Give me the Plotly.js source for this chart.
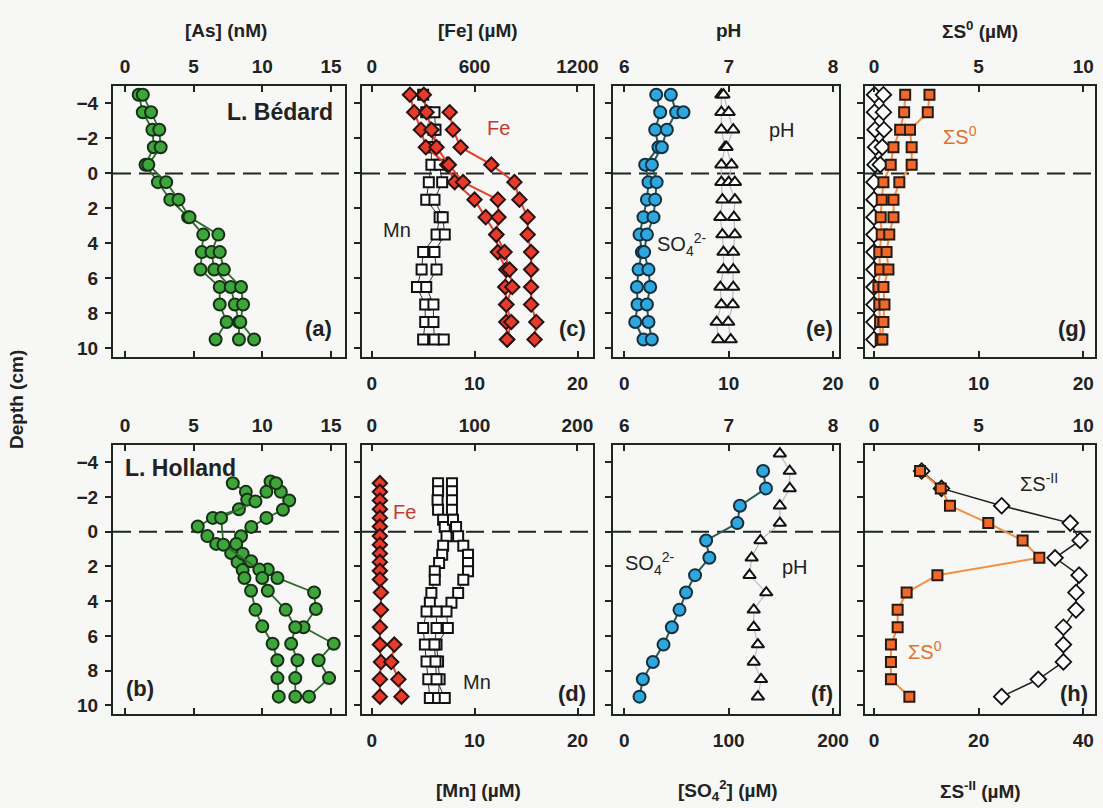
<!DOCTYPE html>
<html><head><meta charset="utf-8">
<script src="https://cdn.plot.ly/plotly-3.0.1.min.js"></script>
<style>html,body{margin:0;padding:0;background:#f7f7f5;}#chart{width:1103px;height:808px;}</style>
</head><body><div id="chart"></div>
<script>
// ---------- DATA ----------
// L. Bédard (top row)
const depthBed = [-4.5,-3.5,-2.5,-1.5,-0.5,0.5,1.5,2.5,3.5,4.5,5.5,6.5,7.5,8.5,9.5];
const depthBedB = [-3.5,-2.5,-1.5,-0.5,0.5,1.5,2.5,3.5,4.5,5.5,6.5,7.5,8.5,9.5];
const depthBedAs3 = [4.5,5.5,6.5,7.5,8.5,9.5];
const asBed1 = [1.0,1.3,2.0,2.1,1.5,2.4,3.3,4.6,5.7,5.6,5.5,6.9,6.9,7.4,6.6];
const asBed2 = [1.3,1.9,2.5,2.6,1.7,3.0,3.9,4.7,6.8,6.3,6.5,7.7,8.0,8.3,8.3];
const asBed3 = [6.9,7.2,8.45,8.6,8.4,9.4];
const feBed1 = [223,248,287,316,440,484,600,665,727,736,785,779,785,785,790];
const feBed2 = [304,320,349,378,450,533,736,740,727,775,804,820,785,814,790];
const feBed3 = [455,474,519,698,833,862,910,910,930,930,930,930,960,950];
const mnBed1 = [5.0,5.3,6.0,5.8,5.8,5.55,5.3,6.6,6.3,5.0,4.85,4.4,5.2,5.2,5.0];
const mnBed2 = [6.1,6.2,6.1,6.6,6.85,6.1,6.9,7.1,6.1,6.3,5.3,6.0,6.0,6.1];
const depthBedMn3 = [9.5];
const mnBed3 = [7.0];
const so4Bed1 = [3.06,3.44,2.96,3.28,2.0,2.32,2.17,1.84,1.46,1.69,1.37,1.21,1.27,1.05,1.84];
const so4Bed2 = [4.46,4.97,4.08,3.6,2.65,3.1,2.96,2.8,2.17,1.9,2.32,2.48,2.17,2.32,2.64];
const depthBedSo4x = [-3.5];
const so4Bed3 = [5.67];
const phBed1 = [6.93,6.93,6.93,6.965,6.93,6.93,6.94,6.92,6.94,6.95,6.95,6.92,6.93,6.885,6.90];
const phBed2 = [6.95,7.0,7.044,6.98,7.028,7.0,7.06,7.05,7.06,7.044,7.044,7.044,7.04,6.996,7.02];
const depthBedPh3 = [0.5];
const phBed3 = [7.06];
const s0Bed1 = [1.49,1.44,1.25,0.93,0.8,0.45,0.37,0.32,0.37,0.25,0.29,0.21,0.25,0.29,0.32];
const s0Bed2 = [2.65,2.57,1.72,1.8,1.8,1.21,0.93,0.93,0.73,0.6,0.69,0.45,0.5,0.45,0.4];
const sIIBed1 = [0.05,0.05,0.1,0.15,0.1,0.0,0.0,0.0,0.0,0.0,0.0,0.0,0.0,0.0,0.0];
const depthBedSII2 = [-4.5,-3.5,-2.5,-1.5,-0.5];
const sIIBed2 = [0.9,0.9,0.95,0.8,0.6];

// L. Holland (bottom row)
const depthHolAs1 = [-2.8,-2.3,-1.85,-1.3,-0.8,-0.3,0.25,0.7,1.22,1.75,2.2,2.66,3.4,4.5,5.45,6.45,7.4,8.43,9.5];
const asHol1 = [7.85,8.8,8.9,8.3,6.4,5.3,6.0,6.64,7.73,8.2,8.57,8.7,9.18,9.5,10.0,10.75,11.1,11.1,11.2];
const depthHolAs2 = [-2.9,-2.3,-1.8,-1.27,-0.8,-0.28,0.26,0.7,1.26,1.7,2.18,2.66,3.5,4.45,5.5,6.45,7.4,8.43,9.5];
const asHol2 = [10.6,11.35,11.96,11.5,10.3,9.2,8.45,8.1,8.57,9.18,10.4,11.1,13.77,13.9,13.0,15.2,14.1,14.86,13.4];
const depthHolAs3 = [-2.8,-2.3,-1.75,-0.8,0.75,2.18,2.66,3.4,4.5,5.5,6.45,7.4,8.43,9.5];
const asHol3 = [11.0,10.3,9.5,7.0,7.17,9.78,10.0,10.4,11.7,12.4,12.1,12.56,12.4,12.4];
const depthHolFe1 = [-2.8,-2.3,-1.8,-1.3,-0.8,-0.3,0.25,0.75,1.25,1.75,2.25,2.75,3.5,4.5,5.5,6.5,7.5,8.5,9.5];
const feHol1 = [8,8,8,8,8,8,8,8,8,8,8,8,9,9,8,8,9,8,8];
const depthHolFe2 = [6.5,7.5,8.5,9.5];
const feHol2 = [22,19,26,29];
const depthHolMn = [-2.8,-2.33,-1.81,-1.27,-0.7,-0.28,0.26,0.8,1.32,1.8,2.28,2.76,3.53,4.09,4.59,5.55,6.5,7.47,8.5,9.58];
const mnHol1 = [6.45,6.45,6.4,6.45,6.94,7.1,7.27,6.94,6.85,6.55,6.13,6.13,5.8,5.65,5.33,5.0,5.17,5.33,5.5,5.65];
const mnHol2 = [7.8,7.8,7.8,7.8,7.9,8.2,8.4,8.9,9.36,9.36,9.36,8.9,8.4,7.75,7.27,7.4,6.3,6.45,6.6,6.45];
const depthHolMn3 = [4.59,5.55,6.5,7.47,8.5,9.58];
const mnHol3 = [6.3,6.3,6.1,6.2,6.3,7.1];
const depthHolSo4 = [-3.5,-2.5,-1.5,-0.5,0.5,1.5,2.5,3.5,4.5,5.5,6.5,7.5,8.5,9.5];
const so4Hol = [133,135.7,110.8,108.3,78.4,81.5,67.8,59.2,52.9,45.6,37.6,27.4,17.8,14.6];
const depthHolPh = [-4.5,-3.5,-2.5,-1.5,-0.5,0.5,1.5,2.5,3.5,4.5,5.5,6.5,7.5,8.5,9.5];
const phHol = [7.49,7.585,7.585,7.49,7.49,7.305,7.22,7.2,7.36,7.24,7.24,7.28,7.24,7.31,7.28];
const depthHolS = [-3.5,-2.5,-1.5,-0.5,0.5,1.5,2.5,3.5,4.5,5.5,6.5,7.5,8.5,9.5];
const s0Hol = [2.2,3.19,3.63,5.46,7.1,7.9,3.03,1.56,1.13,1.13,0.81,0.81,0.81,1.69];
const sIIHol = [9.1,12.9,24.4,37.5,39.4,34.6,39.2,38.6,38.6,36.2,36.2,36.2,31.4,24.4];

const depthTicks = [-4,-2,0,2,4,6,8,10];

// ---------- LAYOUT HELPERS ----------
const W = 1103, H = 808;
const px = x => x / W, py = y => 1 - y / H;
const INK = '#1d2620';
const FONT = 'Liberation Sans, Arial, sans-serif';
const tickFont = {family: FONT, size: 19, color: '#222', weight: 'bold'};
const cols = [[113,345],[362,593],[613,839],[865,1095]];
const rows = [[86,357],[445,714]];

// single: only one x scale (drawn on top, mirrored ticks at bottom)
const panels = [
  {c:0,r:0, single:true, top:[-0.87,16.02], tt:[0,5,10,15]},
  {c:1,r:0, top:[-56.5,1291], tt:[0,600,1200], bot:[-0.94,21.5], bt:[0,10,20]},
  {c:2,r:0, top:[5.892,8.057], tt:[6,7,8], bot:[-1.08,20.57], bt:[0,10,20]},
  {c:3,r:0, top:[-0.43,10.56], tt:[0,5,10], bot:[-0.86,21.12], bt:[0,10,20]},
  {c:0,r:1, single:true, top:[-0.87,16.02], tt:[0,5,10,15]},
  {c:1,r:1, top:[-9.4,215.2], tt:[0,100,200], bot:[-0.94,21.5], bt:[0,10,20]},
  {c:2,r:1, top:[5.892,8.057], tt:[6,7,8], bot:[-10.8,205.7], bt:[0,100,200]},
  {c:3,r:1, top:[-0.43,10.56], tt:[0,5,10], bot:[-1.72,42.24], bt:[0,20,40]}
];

const layout = {
  width: W, height: H, margin: {l:0,r:0,t:0,b:0},
  paper_bgcolor: '#f7f7f5', plot_bgcolor: 'rgba(0,0,0,0)',
  showlegend: false, font: {family: FONT, color: '#222'},
  annotations: [], shapes: []
};
const axId = n => n === 1 ? '' : String(n);
const common = {ticks: 'inside', ticklen: 6, tickwidth: 2, tickcolor: INK, tickfont: tickFont,
  showline: true, linewidth: 2, linecolor: INK, showgrid: false, zeroline: false, fixedrange: true};
panels.forEach((p, i) => {
  const yn = i + 1, xb = 2*i + 1, xt = 2*i + 2;
  const col = cols[p.c], row = rows[p.r];
  layout['yaxis' + axId(yn)] = {
    domain: [py(row[1]), py(row[0])], anchor: 'x' + axId(xb),
    range: [10.5, -5], tickvals: depthTicks, ticks: 'outside', ticklen: 6, tickwidth: 2, tickcolor: INK,
    showticklabels: p.c === 0, tickfont: tickFont, ticklabelstandoff: 3,
    showline: true, mirror: true, linewidth: 2, linecolor: INK,
    showgrid: false, zeroline: false, fixedrange: true
  };
  if (p.single) {
    layout['xaxis' + axId(xb)] = Object.assign({}, common, {
      domain: [px(col[0]), px(col[1])], anchor: 'y' + axId(yn), side: 'top', mirror: 'ticks',
      range: p.top, tickvals: p.tt, showticklabels: true, ticklabelstandoff: 3});
  } else {
    layout['xaxis' + axId(xb)] = Object.assign({}, common, {
      domain: [px(col[0]), px(col[1])], anchor: 'y' + axId(yn), side: 'bottom',
      range: p.bot, tickvals: p.bt, showticklabels: true, ticklabelstandoff: 8});
    layout['xaxis' + axId(xt)] = Object.assign({}, common, {
      overlaying: 'x' + axId(xb), anchor: 'y' + axId(yn), side: 'top',
      range: p.top, tickvals: p.tt, showticklabels: true, ticklabelstandoff: 3});
  }
  layout.shapes.push({type:'line', layer:'below', xref:'x' + axId(xb) + ' domain', x0:0, x1:1,
    yref:'y' + axId(yn), y0:0, y1:0, line:{color: INK, width: 2, dash: '18px,8px'}});
});

// ---------- TRACES ----------
const S = {
  as:   {marker:{symbol:'circle', size:12, color:'#3ea53a', line:{color:'#163016', width:2}}, line:{color:'#2d6a2a', width:1.8}},
  fe:   {marker:{symbol:'diamond', size:11, color:'#e63b2a', line:{color:'#2a1010', width:2}}, line:{color:'#e8402e', width:2}},
  mn:   {marker:{symbol:'square', size:10, color:'#ffffff', line:{color:'#111', width:2}}, line:{color:'#333', width:1}},
  so4:  {marker:{symbol:'circle', size:12, color:'#2ea7df', line:{color:'#14303e', width:2}}, line:{color:'#2a5a58', width:2}},
  ph:   {marker:{symbol:'triangle-up', size:11, color:'#ffffff', line:{color:'#111', width:2}}, line:{color:'#bbbbbb', width:1.2}},
  s0:   {marker:{symbol:'square', size:10, color:'#f0682a', line:{color:'#2a1a10', width:2}}, line:{color:'#f39048', width:2}},
  sII:  {marker:{symbol:'diamond', size:12, color:'#ffffff', line:{color:'#111', width:1.8}}, line:{color:'#222', width:1.5}}
};
const traces = [];
function add(xv, yv, panel, which, st) {
  const xb = 2*panel + 1, xt = 2*panel + 2;
  const useTop = which === 'top' && !panels[panel].single;
  traces.push({type:'scatter', mode:'lines+markers', x: xv, y: yv,
    xaxis: 'x' + axId(useTop ? xt : xb), yaxis: 'y' + axId(panel + 1),
    marker: S[st].marker, line: S[st].line, hoverinfo: 'skip', cliponaxis: false});
}
// (a)
add(asBed1, depthBed, 0, 'top', 'as');
add(asBed2, depthBed, 0, 'top', 'as');
add(asBed3, depthBedAs3, 0, 'top', 'as');
// (c)
add(mnBed1, depthBed, 1, 'bot', 'mn');
add(mnBed2, depthBedB, 1, 'bot', 'mn');
add(mnBed3, depthBedMn3, 1, 'bot', 'mn');
add(feBed1, depthBed, 1, 'top', 'fe');
add(feBed2, depthBed, 1, 'top', 'fe');
add(feBed3, depthBedB, 1, 'top', 'fe');
// (e)
add(so4Bed1, depthBed, 2, 'bot', 'so4');
add(so4Bed2, depthBed, 2, 'bot', 'so4');
add(so4Bed3, depthBedSo4x, 2, 'bot', 'so4');
add(phBed1, depthBed, 2, 'top', 'ph');
add(phBed2, depthBed, 2, 'top', 'ph');
add(phBed3, depthBedPh3, 2, 'top', 'ph');
// (g)
add(sIIBed1, depthBed, 3, 'bot', 'sII');
add(sIIBed2, depthBedSII2, 3, 'bot', 'sII');
add(s0Bed1, depthBed, 3, 'top', 's0');
add(s0Bed2, depthBed, 3, 'top', 's0');
// (b)
add(asHol1, depthHolAs1, 4, 'top', 'as');
add(asHol2, depthHolAs2, 4, 'top', 'as');
add(asHol3, depthHolAs3, 4, 'top', 'as');
// (d)
add(mnHol1, depthHolMn, 5, 'bot', 'mn');
add(mnHol2, depthHolMn, 5, 'bot', 'mn');
add(mnHol3, depthHolMn3, 5, 'bot', 'mn');
add(feHol1, depthHolFe1, 5, 'top', 'fe');
add(feHol2, depthHolFe2, 5, 'top', 'fe');
// (f)
add(so4Hol, depthHolSo4, 6, 'bot', 'so4');
add(phHol, depthHolPh, 6, 'top', 'ph');
// (h)
add(sIIHol, depthHolS, 7, 'bot', 'sII');
add(s0Hol, depthHolS, 7, 'top', 's0');

// ---------- TEXT ----------
function ann(text, x, y, o) {
  o = o || {};
  layout.annotations.push({text: text, x: px(x), y: py(y), xref:'paper', yref:'paper', showarrow:false,
    xanchor: o.xa || 'center', yanchor: 'middle', textangle: o.angle || 0,
    font: {family: FONT, size: o.size || 19, color: o.color || '#222', weight: o.bold === false ? 'normal' : 'bold'}});
}
// axis titles
ann('[As] (nM)', 226, 30);
ann('[Fe] (µM)', 478, 30);
ann('pH', 728, 30);
ann('ΣS<sup>0</sup> (µM)', 980, 30);
ann('[Mn] (µM)', 478, 790);
ann('[SO<sub>4</sub><sup>2</sup>] (µM)', 728, 790);
ann('ΣS<sup>-II</sup> (µM)', 980, 790);
ann('Depth (cm)', 16, 400, {angle: -90});
// lake names and panel letters
ann('L. Bédard', 335, 112, {xa:'right', size: 23});
ann('L. Holland', 123, 468, {xa:'left', size: 23});
ann('(a)', 334, 328, {xa:'right', size: 22});
ann('(c)', 588, 328, {xa:'right', size: 22});
ann('(e)', 835, 328, {xa:'right', size: 22});
ann('(g)', 1088, 328, {xa:'right', size: 22});
ann('(b)', 124, 688, {xa:'left', size: 22});
ann('(d)', 588, 693, {xa:'right', size: 22});
ann('(f)', 835, 693, {xa:'right', size: 22});
ann('(h)', 1090, 693, {xa:'right', size: 22});
// species labels
ann('Fe', 498, 128, {bold:false, size: 20, color:'#c43a30'});
ann('Mn', 397, 230, {bold:false, size: 20});
ann('pH', 782, 130, {bold:false, size: 20});
ann('SO<sub>4</sub><sup>2-</sup>', 655, 245, {xa:'left', bold:false, size: 20});
ann('ΣS<sup>0</sup>', 960, 135, {bold:false, size: 20, color:'#e0702a'});
ann('Fe', 404, 512, {bold:false, size: 20, color:'#c43a30'});
ann('Mn', 477, 682, {bold:false, size: 20});
ann('SO<sub>4</sub><sup>2-</sup>', 623, 563, {xa:'left', bold:false, size: 20});
ann('pH', 795, 567, {bold:false, size: 20});
ann('ΣS<sup>-II</sup>', 1018, 482, {xa:'left', bold:false, size: 20});
ann('ΣS<sup>0</sup>', 925, 650, {bold:false, size: 20, color:'#e0702a'});

Plotly.newPlot('chart', traces, layout, {staticPlot: true, displayModeBar: false});
</script>
</body></html>
